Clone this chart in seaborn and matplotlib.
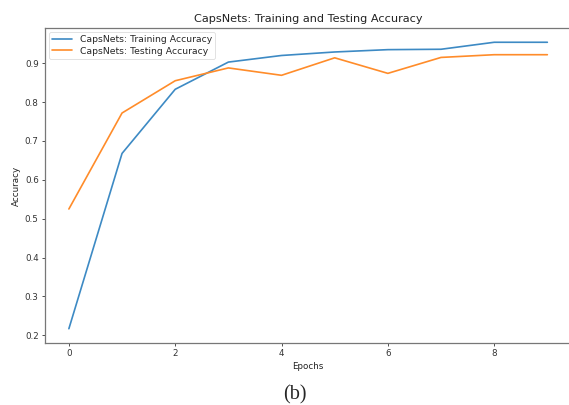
import numpy as np
import pandas as pd
import matplotlib
matplotlib.use("Agg")
import matplotlib.pyplot as plt
import seaborn as sns

# values
epochs = [0, 1, 2, 3, 4, 5, 6, 7, 8, 9]
train_acc = [0.217, 0.668, 0.833, 0.903, 0.920, 0.929, 0.935, 0.936, 0.954, 0.954]
test_acc = [0.525, 0.772, 0.855, 0.888, 0.869, 0.914, 0.874, 0.915, 0.922, 0.922]

sns.set_style("white")
plt.rcParams['font.family'] = ['DejaVu Sans']

fig = plt.figure(figsize=(5.69, 4.05), dpi=100)
ax = fig.add_axes([0.079, 0.153, 0.925, 0.778])

sns.lineplot(x=epochs, y=train_acc, ax=ax, color='#3d8ac4', linewidth=1.2,
             label='CapsNets: Training Accuracy')
sns.lineplot(x=epochs, y=test_acc, ax=ax, color='#ff8c2a', linewidth=1.2,
             label='CapsNets: Testing Accuracy')

ax.set_title('CapsNets: Training and Testing Accuracy', fontsize=8.1, color='#222222', pad=4)
ax.set_xlabel('Epochs', fontsize=6.3, color='#222222', labelpad=3)
ax.set_ylabel('Accuracy', fontsize=6.3, color='#222222', labelpad=3)
ax.set_xticks([0, 2, 4, 6, 8])
ax.set_yticks([0.2, 0.3, 0.4, 0.5, 0.6, 0.7, 0.8, 0.9])
ax.tick_params(axis='both', labelsize=6.3, colors='#333333', length=2.5, width=0.6,
               bottom=True, left=True, pad=2)
for s in ax.spines.values():
    s.set_color('#777777')
    s.set_linewidth(0.9)
# the right edge of the original figure is cropped off
ax.spines['right'].set_visible(False)

leg = ax.legend(loc='upper left', fontsize=6.7, frameon=True, handlelength=2.2,
                borderpad=0.35, labelspacing=0.3, borderaxespad=0.4)
leg.get_frame().set_linewidth(0.5)
leg.get_frame().set_edgecolor('#cccccc')

fig.text(0.518, 0.024, '(b)', fontsize=14.5, family='Liberation Serif', ha='center', va='center')

fig.savefig('out.png', dpi=100)
